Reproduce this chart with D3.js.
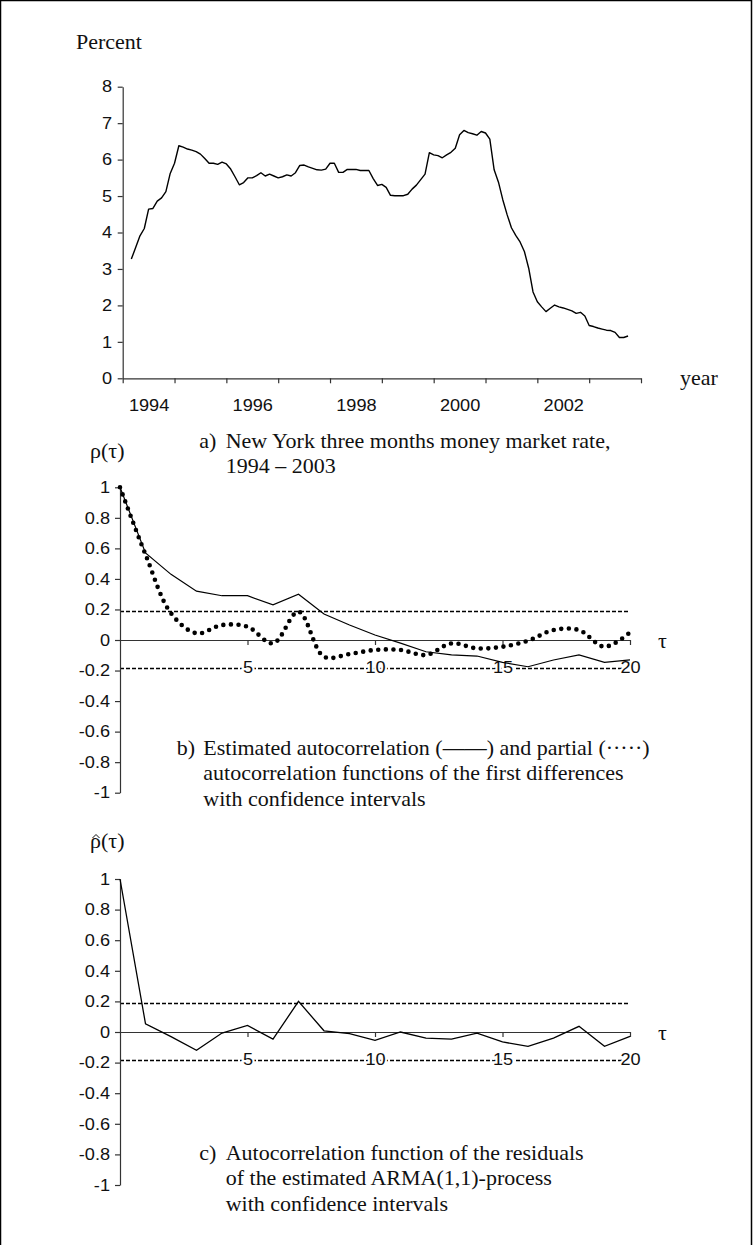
<!DOCTYPE html>
<html>
<head>
<meta charset="utf-8">
<script src="https://cdn.jsdelivr.net/npm/d3@7/dist/d3.min.js"></script>
<style>
  body { margin: 0; background: #fff; }
  svg { display: block; }
</style>
</head>
<body>
<script>
// ---- data ----

// a) monthly New York 3-month money market rate, March 1994 .. October 2003
var rateStart = 1994 + 2 / 12;
var rateValues = [
  3.27, 3.59, 3.91, 4.11, 4.64, 4.66, 4.86, 4.95, 5.12, 5.62,             // 1994 Mar-Dec
  5.90, 6.38, 6.34, 6.29, 6.26, 6.22, 6.15, 6.03, 5.90, 5.90, 5.87, 5.93, // 1995
  5.88, 5.74, 5.53, 5.31, 5.37, 5.50, 5.50, 5.56, 5.64, 5.55, 5.60, 5.55, // 1996
  5.50, 5.53, 5.58, 5.55, 5.64, 5.84, 5.85, 5.80, 5.76, 5.72, 5.71, 5.74, // 1997
  5.90, 5.90, 5.65, 5.65, 5.73, 5.73, 5.73, 5.70, 5.70, 5.70, 5.48, 5.29, // 1998
  5.32, 5.24, 5.02, 5.01, 5.01, 5.01, 5.05, 5.19, 5.30, 5.45, 5.60, 6.19, // 1999
  6.13, 6.11, 6.05, 6.13, 6.20, 6.31, 6.68, 6.80, 6.74, 6.71, 6.67, 6.77, // 2000
  6.73, 6.56, 5.72, 5.38, 4.90, 4.49, 4.13, 3.92, 3.74, 3.48, 3.02, 2.37, // 2001
  2.10, 1.96, 1.83, 1.92, 2.01, 1.96, 1.93, 1.89, 1.85, 1.78, 1.81, 1.71, // 2002
  1.45, 1.42, 1.38, 1.35, 1.32, 1.31, 1.26, 1.12, 1.12, 1.16              // 2003 Jan-Oct
];
var yearTicks = [1994, 1995, 1996, 1997, 1998, 1999, 2000, 2001, 2002, 2003, 2004];
var yearLabels = ["1994", "1996", "1998", "2000", "2002"];
var rateTicks = [0, 1, 2, 3, 4, 5, 6, 7, 8];

// b) and c) correlation functions over lags 0..20
var lags = [0, 1, 2, 3, 4, 5, 6, 7, 8, 9, 10, 11, 12, 13, 14, 15, 16, 17, 18, 19, 20];
var acfDiff = [1, 0.57, 0.43, 0.32, 0.29, 0.29, 0.23, 0.30, 0.17, 0.098, 0.033,
  -0.02, -0.077, -0.098, -0.105, -0.147, -0.175, -0.131, -0.098, -0.146, -0.13];
var pacfDiff = [1, 0.56, 0.175, 0.044, 0.098, 0.087, -0.022, 0.185, -0.11, -0.092, -0.065,
  -0.065, -0.098, -0.022, -0.055, -0.044, -0.005, 0.065, 0.065, -0.044, 0.05];
var acfResid = [1, 0.054, -0.03, -0.12, -0.007, 0.043, -0.046, 0.2, 0.008, -0.011, -0.055,
  0.0, -0.04, -0.046, -0.007, -0.065, -0.094, -0.04, 0.037, -0.094, -0.029];
var confBand = 0.186;
var corrTicks = [-1, -0.8, -0.6, -0.4, -0.2, 0, 0.2, 0.4, 0.6, 0.8, 1];
var lagTicks = [5, 10, 15, 20];

// ---- drawing ----
var W = 753, H = 1245;
var serif = "'Liberation Serif', 'Times New Roman', serif";
var sans = "'Liberation Sans', Arial, sans-serif";
var sx = 1.1; // the scan is a bit stretched horizontally

var svg = d3.select("body").append("svg")
  .attr("width", W)
  .attr("height", H);

// frame round the page
svg.append("rect")
  .attr("x", 0.5).attr("y", 0.5)
  .attr("width", W - 2).attr("height", H + 20)
  .attr("fill", "none")
  .attr("stroke", "#000")
  .attr("stroke-width", 1.5);

function label(x, y, str, anchor) {
  return svg.append("text")
    .attr("transform", "translate(" + x + "," + y + ") scale(" + sx + ",1)")
    .attr("text-anchor", anchor || "start")
    .style("font-family", serif)
    .style("font-size", "20px")
    .attr("fill", "#111")
    .text(str);
}

function styleAxis(g) {
  g.selectAll("path, line").attr("stroke", "#333").attr("stroke-width", 1.2);
  g.selectAll("text")
    .style("font-family", sans)
    .style("font-size", "16.5px")
    .attr("fill", "#111");
}

// ===== a) money market rate =====
var xA = d3.scaleLinear().domain([1994, 2004]).range([122.7, 641]);
var yA = d3.scaleLinear().domain([0, 8]).range([378.3, 86.7]);

var gyA = svg.append("g")
  .attr("transform", "translate(" + xA.range()[0] + ",0)")
  .call(d3.axisLeft(yA).tickValues(rateTicks).tickSize(5).tickSizeOuter(0));
styleAxis(gyA);
gyA.selectAll("text").attr("x", -10.7 / sx).attr("transform", "scale(" + sx + ",1)");

var gxA = svg.append("g")
  .attr("transform", "translate(0," + yA(0) + ")")
  .call(d3.axisBottom(xA).tickValues(yearTicks).tickSize(5).tickSizeOuter(0).tickFormat(""));
styleAxis(gxA);

var gxAl = svg.append("g")
  .attr("transform", "translate(0," + yA(0) + ")")
  .call(d3.axisBottom(xA)
    .tickValues(yearLabels.map(function (d) { return +d + 0.5; }))
    .tickSize(0).tickPadding(21)
    .tickFormat(function (d, i) { return yearLabels[i]; }));
gxAl.select(".domain").remove();
styleAxis(gxAl);
gxAl.selectAll("text").attr("transform", "scale(" + sx + ",1)");

var rateLine = d3.line()
  .x(function (d, i) { return xA(rateStart + i / 12); })
  .y(function (d) { return yA(d); });

svg.append("path")
  .datum(rateValues)
  .attr("d", rateLine)
  .attr("fill", "none")
  .attr("stroke", "#000")
  .attr("stroke-width", 1.4)
  .attr("stroke-linejoin", "round");

label(76, 49, "Percent");
label(680, 385, "year");
label(199.3, 448, "a)");
label(225.7, 448, "New York three months money market rate,");
label(225.7, 473, "1994 \u2013 2003");

// ===== correlation panels =====
var xL = d3.scaleLinear().domain([0, 20]).range([120, 630]);

function corrPanel(yTop, yBottom) {
  var y = d3.scaleLinear().domain([-1, 1]).range([yBottom, yTop]);

  // confidence intervals
  [confBand, -confBand].forEach(function (c) {
    svg.append("line")
      .attr("x1", xL(0)).attr("x2", xL(20))
      .attr("y1", y(c)).attr("y2", y(c))
      .attr("stroke", "#000")
      .attr("stroke-width", 1.5)
      .attr("stroke-dasharray", "4,2");
  });

  var gy = svg.append("g")
    .attr("transform", "translate(" + xL(0) + ",0)")
    .call(d3.axisLeft(y).tickValues(corrTicks).tickSize(5).tickSizeOuter(0)
      .tickFormat(function (d) { return String(d); }));
  styleAxis(gy);
  gy.selectAll("text").attr("x", -10 / sx).attr("transform", "scale(" + sx + ",1)");

  var gx = svg.append("g")
    .attr("transform", "translate(0," + y(0) + ")")
    .call(d3.axisBottom(xL).tickValues(lagTicks).tickSize(5).tickSizeOuter(0).tickPadding(16.3));
  styleAxis(gx);
  gx.selectAll("text")
    .attr("transform", "scale(" + sx + ",1)")
    .attr("stroke", "#fff")
    .attr("stroke-width", 4)
    .style("paint-order", "stroke");

  label(658, y(0) + 8, "\u03c4");
  return y;
}

// b) first differences
var yB = corrPanel(487.3, 792.7);

svg.append("path")
  .datum(lags)
  .attr("d", d3.line()
    .x(function (d) { return xL(d); })
    .y(function (d, i) { return yB(acfDiff[i]); }))
  .attr("fill", "none")
  .attr("stroke", "#000")
  .attr("stroke-width", 1.2);

svg.append("path")
  .datum(lags)
  .attr("d", d3.line()
    .curve(d3.curveCatmullRom.alpha(0.5))
    .x(function (d) { return xL(d); })
    .y(function (d, i) { return yB(pacfDiff[i]); }))
  .attr("fill", "none")
  .attr("stroke", "#000")
  .attr("stroke-width", 4.6)
  .attr("stroke-linecap", "round")
  .attr("stroke-dasharray", "0,7.6");

label(90, 458, "\u03c1(\u03c4)");
label(176.7, 755, "b)");
label(203.3, 755, "Estimated autocorrelation (\u2014\u2014) and partial (\u00b7\u00b7\u00b7\u00b7\u00b7)");
label(203.3, 780, "autocorrelation functions of the first differences");
label(203.3, 806, "with confidence intervals");

// c) residuals of the ARMA(1,1)
var yC = corrPanel(879, 1185);

svg.append("path")
  .datum(lags)
  .attr("d", d3.line()
    .x(function (d) { return xL(d); })
    .y(function (d, i) { return yC(acfResid[i]); }))
  .attr("fill", "none")
  .attr("stroke", "#000")
  .attr("stroke-width", 1.3);

// rho with a hat: the hat is a small stroke above the letter
label(90, 848, "\u03c1(\u03c4)");
svg.append("path")
  .attr("d", "M92.5,838 L96,834.5 L99.5,838")
  .attr("fill", "none")
  .attr("stroke", "#111")
  .attr("stroke-width", 1);

label(199.3, 1160, "c)");
label(225.7, 1160, "Autocorrelation function of the residuals");
label(225.7, 1185, "of the estimated ARMA(1,1)-process");
label(225.7, 1211, "with confidence intervals");
</script>
</body>
</html>
